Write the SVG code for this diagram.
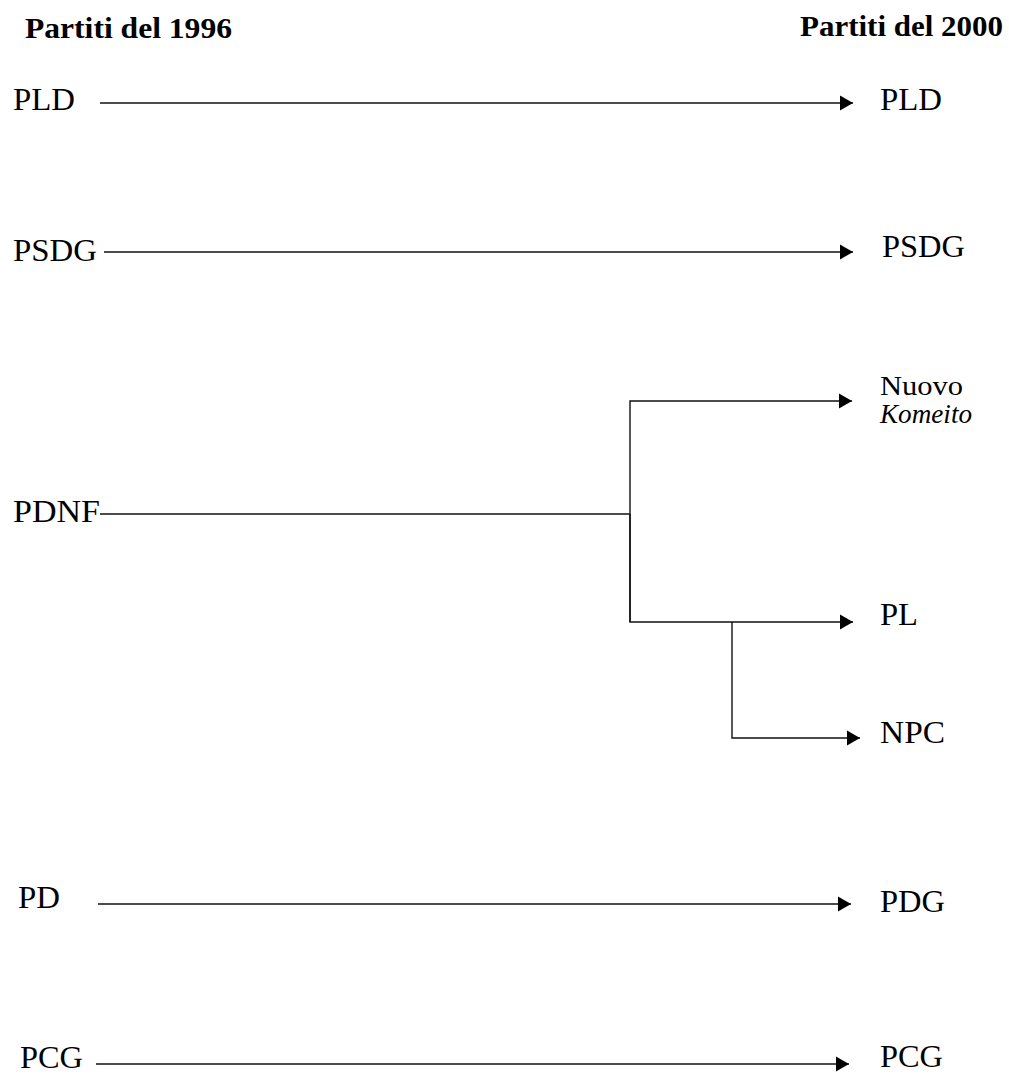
<svg xmlns="http://www.w3.org/2000/svg" width="1009" height="1076" viewBox="0 0 1009 1076">
<style>
.t{font-family:"Liberation Serif","Times New Roman",serif;fill:#000}
.h{font-size:30px;font-weight:bold}
.n{font-size:32px}
.s{font-size:28px}
.c{fill:none;stroke:#111;stroke-width:1.4}
</style>
<defs>
<marker id="ah" markerUnits="userSpaceOnUse" markerWidth="15" markerHeight="17" refX="13" refY="8" orient="auto">
<path d="M0,0.5 L13,8 L0,15.5 Z" fill="#000"/>
</marker>
</defs>
<rect width="1009" height="1076" fill="#fff"/>
<g id="titles">
<text id="title-1996" class="t h" x="25" y="38" textLength="207" lengthAdjust="spacingAndGlyphs">Partiti del 1996</text>
<text id="title-2000" class="t h" x="800" y="36" textLength="203" lengthAdjust="spacingAndGlyphs">Partiti del 2000</text>
</g>
<g id="connectors">
<line class="c" x1="100" y1="103" x2="853" y2="103" marker-end="url(#ah)"/>
<line class="c" x1="104" y1="252" x2="853" y2="252" marker-end="url(#ah)"/>
<polyline class="c" points="100,514 630,514"/>
<polyline class="c" points="630,622 630,401 852,401" marker-end="url(#ah)"/>
<polyline class="c" points="630,514 630,622 853,622" marker-end="url(#ah)"/>
<polyline class="c" points="732,622 732,738 860,738" marker-end="url(#ah)"/>
<line class="c" x1="98" y1="904" x2="851" y2="904" marker-end="url(#ah)"/>
<line class="c" x1="96" y1="1064" x2="849" y2="1064" marker-end="url(#ah)"/>
</g>
<g id="node-PLD-1996"><text class="t n" x="13" y="110" textLength="62" lengthAdjust="spacingAndGlyphs">PLD</text></g>
<g id="node-PLD-2000"><text class="t n" x="880" y="110" textLength="62" lengthAdjust="spacingAndGlyphs">PLD</text></g>
<g id="node-PSDG-1996"><text class="t n" x="13" y="261" textLength="84" lengthAdjust="spacingAndGlyphs">PSDG</text></g>
<g id="node-PSDG-2000"><text class="t n" x="882" y="257" textLength="83" lengthAdjust="spacingAndGlyphs">PSDG</text></g>
<g id="node-NuovoKomeito"><text class="t s" x="880" y="395" textLength="83" lengthAdjust="spacingAndGlyphs">Nuovo</text><text class="t s" x="880" y="423" font-style="italic" textLength="92" lengthAdjust="spacingAndGlyphs">Komeito</text></g>
<g id="node-PDNF"><text class="t n" x="13" y="522" textLength="87" lengthAdjust="spacingAndGlyphs">PDNF</text></g>
<g id="node-PL"><text class="t n" x="880" y="625" textLength="38" lengthAdjust="spacingAndGlyphs">PL</text></g>
<g id="node-NPC"><text class="t n" x="880" y="743" textLength="65" lengthAdjust="spacingAndGlyphs">NPC</text></g>
<g id="node-PD"><text class="t n" x="18" y="908" textLength="42" lengthAdjust="spacingAndGlyphs">PD</text></g>
<g id="node-PDG"><text class="t n" x="880" y="912" textLength="65" lengthAdjust="spacingAndGlyphs">PDG</text></g>
<g id="node-PCG-1996"><text class="t n" x="20" y="1068" textLength="63" lengthAdjust="spacingAndGlyphs">PCG</text></g>
<g id="node-PCG-2000"><text class="t n" x="880" y="1067" textLength="63" lengthAdjust="spacingAndGlyphs">PCG</text></g>
</svg>
